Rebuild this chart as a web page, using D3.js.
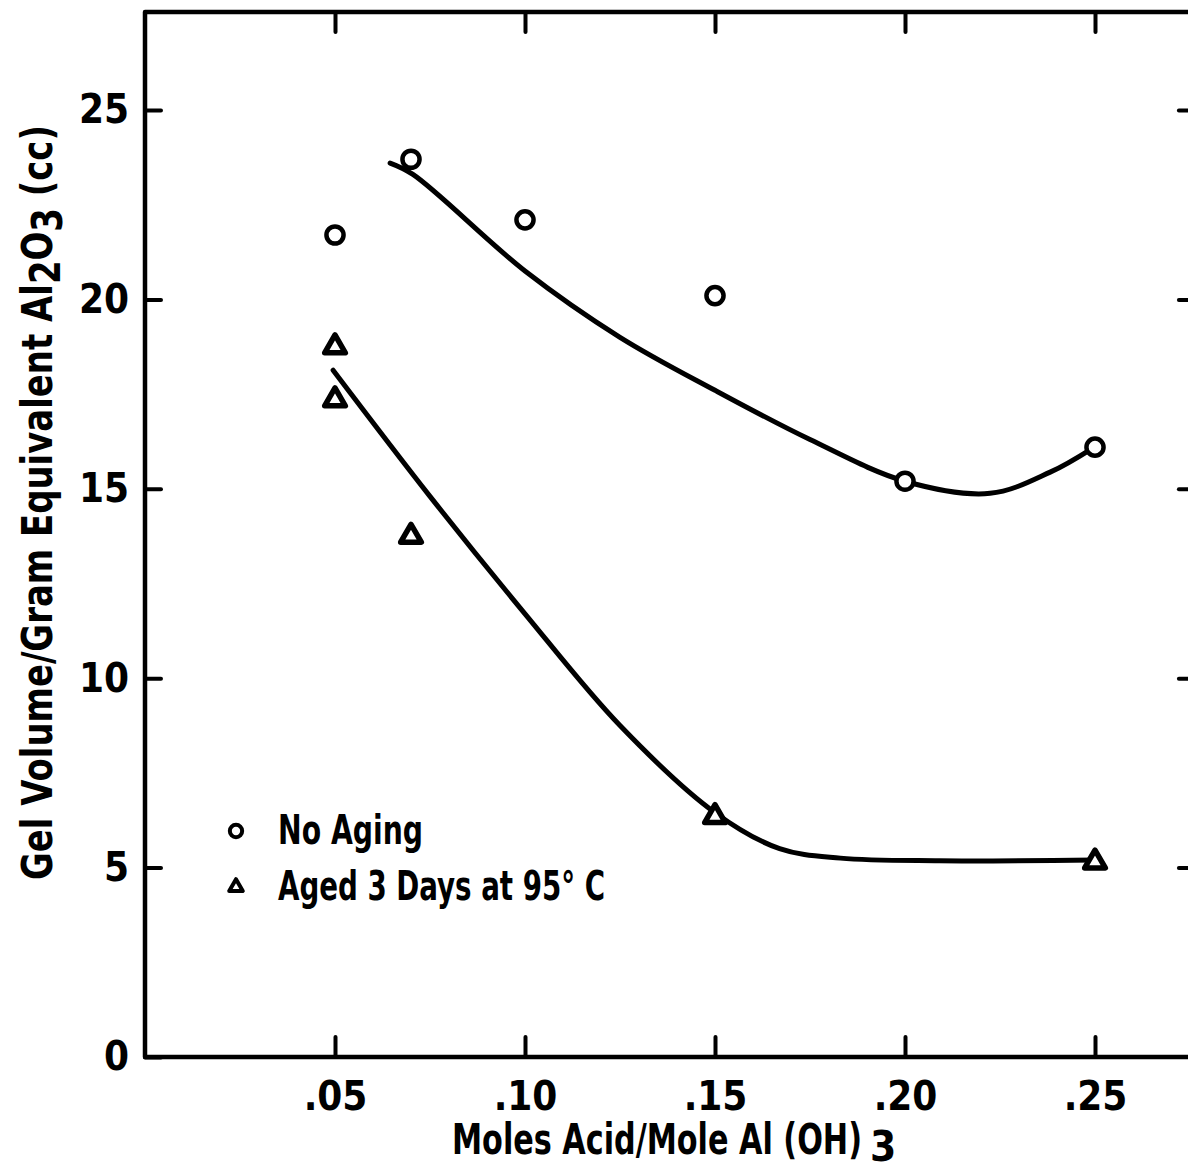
<!DOCTYPE html>
<html>
<head>
<meta charset="utf-8">
<script src="https://cdn.jsdelivr.net/npm/d3@7"></script>
<style>
  html, body { margin: 0; padding: 0; background: #fff; }
  svg { display: block; }
  text { font-family: "Liberation Sans Narrow", "DejaVu Sans Condensed", "Arial Narrow", sans-serif; font-weight: bold; fill: #000; }
</style>
</head>
<body>
<svg id="chart" width="1188" height="1170"></svg>
<script>
// measured points
const noAgingX = [0.05, 0.07, 0.10, 0.15, 0.20, 0.25];
const noAgingY = [21.7, 23.7, 22.1, 20.1, 15.2, 16.1];
const agedX = [0.05, 0.05, 0.07, 0.15, 0.25];
const agedY = [18.8, 17.4, 13.8, 6.4, 5.2];

// hand-drawn smooth curves
const noAgingCurveX = [0.0645, 0.0705, 0.10, 0.125, 0.15, 0.175, 0.20, 0.2224, 0.2382, 0.249];
const noAgingCurveY = [23.6, 23.3, 20.75, 19.0, 17.6, 16.3, 15.2, 14.88, 15.44, 16.05];
const agedCurveX = [0.0495, 0.075, 0.10, 0.125, 0.15, 0.167, 0.183, 0.209, 0.25];
const agedCurveY = [18.13, 14.8, 11.7, 8.75, 6.45, 5.5, 5.25, 5.18, 5.2];

const xTicks = [0.05, 0.10, 0.15, 0.20, 0.25];
const yTicks = [0, 5, 10, 15, 20, 25];

const svg = d3.select("#chart");
svg.append("rect").attr("width", 1188).attr("height", 1170).attr("fill", "#fff");

const x = d3.scaleLinear().domain([0, 0.25]).range([145, 1095]);
const y = d3.scaleLinear().domain([0, 25]).range([1057, 110]);
const xMax = 0.2755;
const yMax = y.invert(12);

const INK = "#000";
const fmtX = (d) => d3.format(".2f")(d).replace(/^0/, "");

function styleAxis(g) {
  g.select(".domain").remove();
  g.selectAll(".tick line").attr("stroke", INK).attr("stroke-width", 4).attr("stroke-linecap", "round");
  g.selectAll(".tick text").attr("font-size", 40).attr("font-family", null);
}

// frame
svg.append("path")
  .attr("d", `M${x(xMax)},${y(0)} H${x(0)} V${y(yMax)} H${x(xMax)}`)
  .attr("fill", "none").attr("stroke", INK).attr("stroke-width", 4.5)
  .attr("stroke-linejoin", "round");

svg.append("g")
  .attr("transform", `translate(0,${y(0)})`)
  .call(d3.axisBottom(x).tickValues(xTicks).tickFormat(fmtX).tickSize(-20).tickSizeOuter(0).tickPadding(25))
  .call(styleAxis);

svg.append("g")
  .attr("transform", `translate(0,${y(yMax)})`)
  .call(d3.axisTop(x).tickValues(xTicks).tickFormat("").tickSize(-20).tickSizeOuter(0))
  .call(styleAxis);

svg.append("g")
  .attr("transform", `translate(${x(0)},0)`)
  .call(d3.axisLeft(y).tickValues(yTicks).tickSize(-16).tickSizeOuter(0).tickPadding(16))
  .call(styleAxis);

svg.append("g")
  .attr("transform", `translate(${x(xMax)},0)`)
  .call(d3.axisRight(y).tickValues(yTicks.filter((d) => d > 0)).tickFormat("").tickSize(-13).tickSizeOuter(0))
  .call(styleAxis);

// curves
const line = d3.line()
  .x((d) => x(d[0]))
  .y((d) => y(d[1]))
  .curve(d3.curveCatmullRom.alpha(0.5));

[[noAgingCurveX, noAgingCurveY], [agedCurveX, agedCurveY]].forEach(([cx, cy]) => {
  svg.append("path")
    .datum(d3.zip(cx, cy))
    .attr("d", line)
    .attr("fill", "none")
    .attr("stroke", INK)
    .attr("stroke-width", 5)
    .attr("stroke-linecap", "round")
    .attr("stroke-linejoin", "round");
});

// markers
const circleSym = d3.symbol().type(d3.symbolCircle).size(230);
const triSym = d3.symbol().type(d3.symbolTriangle).size(185);

svg.append("g").selectAll("path")
  .data(d3.zip(noAgingX, noAgingY))
  .join("path")
  .attr("transform", (d) => `translate(${x(d[0])},${y(d[1])})`)
  .attr("d", circleSym)
  .attr("fill", "#fff").attr("stroke", INK).attr("stroke-width", 4.5);

svg.append("g").selectAll("path")
  .data(d3.zip(agedX, agedY))
  .join("path")
  .attr("transform", (d) => `translate(${x(d[0])},${y(d[1]) + 2})`)
  .attr("d", triSym)
  .attr("fill", "#fff").attr("stroke", INK).attr("stroke-width", 5.5)
  .attr("stroke-linejoin", "round");

// legend
const legend = svg.append("g");
legend.append("path")
  .attr("transform", "translate(236,831)")
  .attr("d", d3.symbol().type(d3.symbolCircle).size(120))
  .attr("fill", "#fff").attr("stroke", INK).attr("stroke-width", 4);
legend.append("path")
  .attr("transform", "translate(236,887)")
  .attr("d", d3.symbol().type(d3.symbolTriangle).size(80))
  .attr("fill", "#fff").attr("stroke", INK).attr("stroke-width", 4)
  .attr("stroke-linejoin", "round");
legend.append("text").attr("x", 278).attr("y", 844).attr("font-size", 40)
  .attr("textLength", 145).attr("lengthAdjust", "spacingAndGlyphs").text("No Aging");
legend.append("text").attr("x", 278).attr("y", 900).attr("font-size", 40)
  .attr("textLength", 327).attr("lengthAdjust", "spacingAndGlyphs").text("Aged 3 Days at 95° C");

// axis titles
const xTitle = svg.append("text")
  .attr("x", 452).attr("y", 1154).attr("font-size", 42);
xTitle.append("tspan")
  .attr("textLength", 410).attr("lengthAdjust", "spacingAndGlyphs")
  .text("Moles Acid/Mole Al (OH)");
xTitle.append("tspan").attr("dx", 8).attr("dy", 7).text("3");

const yTitle = svg.append("text")
  .attr("transform", "translate(52,880) rotate(-90)")
  .attr("x", 0).attr("y", 0).attr("font-size", 42)
  .attr("textLength", 755).attr("lengthAdjust", "spacingAndGlyphs");
yTitle.append("tspan").text("Gel Volume/Gram Equivalent Al");
yTitle.append("tspan").attr("dy", 8).text("2");
yTitle.append("tspan").attr("dy", -8).text("O");
yTitle.append("tspan").attr("dy", 10).text("3");
yTitle.append("tspan").attr("dy", -10).text(" (cc)");
</script>
</body>
</html>
